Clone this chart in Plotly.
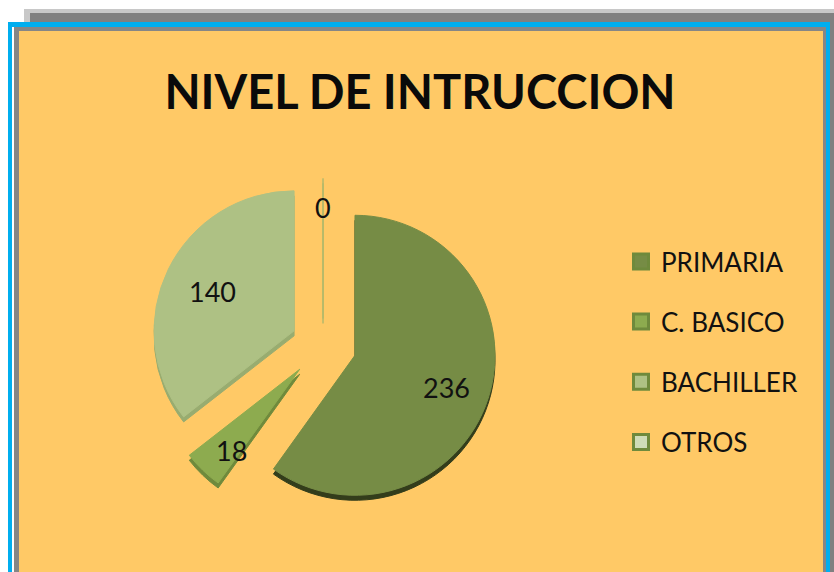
import math
import plotly.graph_objects as go

W, H = 834, 572
TITLE = "NIVEL DE INTRUCCION"
categories = ["PRIMARIA", "C. BASICO", "BACHILLER", "OTROS"]
values = [236, 18, 140, 0]
colors = ["#768c45", "#8dab4f", "#aec184", "#cfdcb8"]
side_colors = ["#333d1b", "#6f8a3c", "#98ac70", "#b4b86a"]
line_colors = ["#768c45", "#8dab4f", "#aec184", "#b4b86a"]
pulls = [0.24, 0.24, 0.23, 0.19]
label_radius = [0.69, 0.74, 0.645, 0.79]
label_xshift = [0, 4, 0, 0]
label_yshift = [-3, -7, 0, 0]

FONT = "Lato, sans-serif"
CX, CY, R = 323, 345, 140
size = R * (1 + max(pulls))


def dom(dy=0):
    return dict(
        x=[(CX - size) / W, (CX + size) / W],
        y=[(H - (CY + dy) - size) / H, (H - (CY + dy) + size) / H],
    )


def rect(x0, y0, x1, y1, fill):
    return dict(type="rect", xref="paper", yref="paper", layer="below",
                x0=x0 / W, x1=x1 / W, y0=1 - y0 / H, y1=1 - y1 / H,
                fillcolor=fill, line_width=0)


shapes = [
    rect(24, 9, 834, 22, "#c8c8c8"),
    rect(30, 13, 834, 572, "#808080"),
    rect(8, 22, 830, 572, "#00aeef"),
    rect(12, 27, 826, 572, "#ffffff"),
    rect(14, 27, 826, 572, "#868686"),
    rect(19, 31, 823, 572, "#ffc966"),
]

depth = go.Pie(
    labels=categories, values=values, sort=False, direction="clockwise",
    rotation=0, pull=pulls, domain=dom(5), showlegend=False, hoverinfo="skip",
    textinfo="none", marker=dict(colors=side_colors, line=dict(color=side_colors, width=1)),
)
top = go.Pie(
    labels=categories, values=values, sort=False, direction="clockwise",
    rotation=0, pull=pulls, domain=dom(0), textinfo="none", showlegend=False,
    marker=dict(colors=colors, line=dict(color=line_colors, width=1)),
)

# Legend entries (one group each so that the row spacing can be set)
legend_traces = [
    go.Scatter(
        x=[None], y=[None], mode="markers", name=c, legendgroup=c,
        marker=dict(symbol="square", size=15, color=col,
                    line=dict(color="#6f8a3c", width=3)),
    )
    for c, col in zip(categories, colors)
]

# Value labels placed along each slice's middle angle
total = sum(values)
annotations = []
cum = 0
for v, p, lr, xs, ys in zip(values, pulls, label_radius, label_xshift, label_yshift):
    mid = math.radians((cum + v / 2) / total * 360)
    cum += v
    dist = R * (p + lr)
    annotations.append(dict(
        xref="paper", yref="paper", showarrow=False, text=str(v),
        x=(CX + dist * math.sin(mid)) / W,
        y=1 - (CY - dist * math.cos(mid)) / H,
        xanchor="center", yanchor="middle",
        xshift=xs, yshift=ys,
        font=dict(family=FONT, size=27, color="#111111"),
    ))

fig = go.Figure([depth, top] + legend_traces)
fig.update_layout(
    width=W, height=H, autosize=False,
    margin=dict(l=0, r=0, t=0, b=0),
    paper_bgcolor="#ffffff",
    plot_bgcolor="rgba(0,0,0,0)",
    shapes=shapes,
    annotations=annotations,
    xaxis=dict(visible=False),
    yaxis=dict(visible=False),
    title=dict(
        text=f"<b>{TITLE}</b>", x=420 / W, xanchor="center", y=1 - 93 / H, yanchor="middle",
        font=dict(family=FONT, size=47, color="#0a0a0a"),
    ),
    legend=dict(
        x=621 / W, xanchor="left", y=1 - 238 / H, yanchor="top",
        bgcolor="rgba(0,0,0,0)", traceorder="grouped", itemsizing="trace",
        font=dict(family=FONT, size=26, color="#111111"),
        tracegroupgap=23.4,
    ),
)
fig.write_html("out.html", config={"displayModeBar": False},
               post_script="document.body.style.margin='0';")
